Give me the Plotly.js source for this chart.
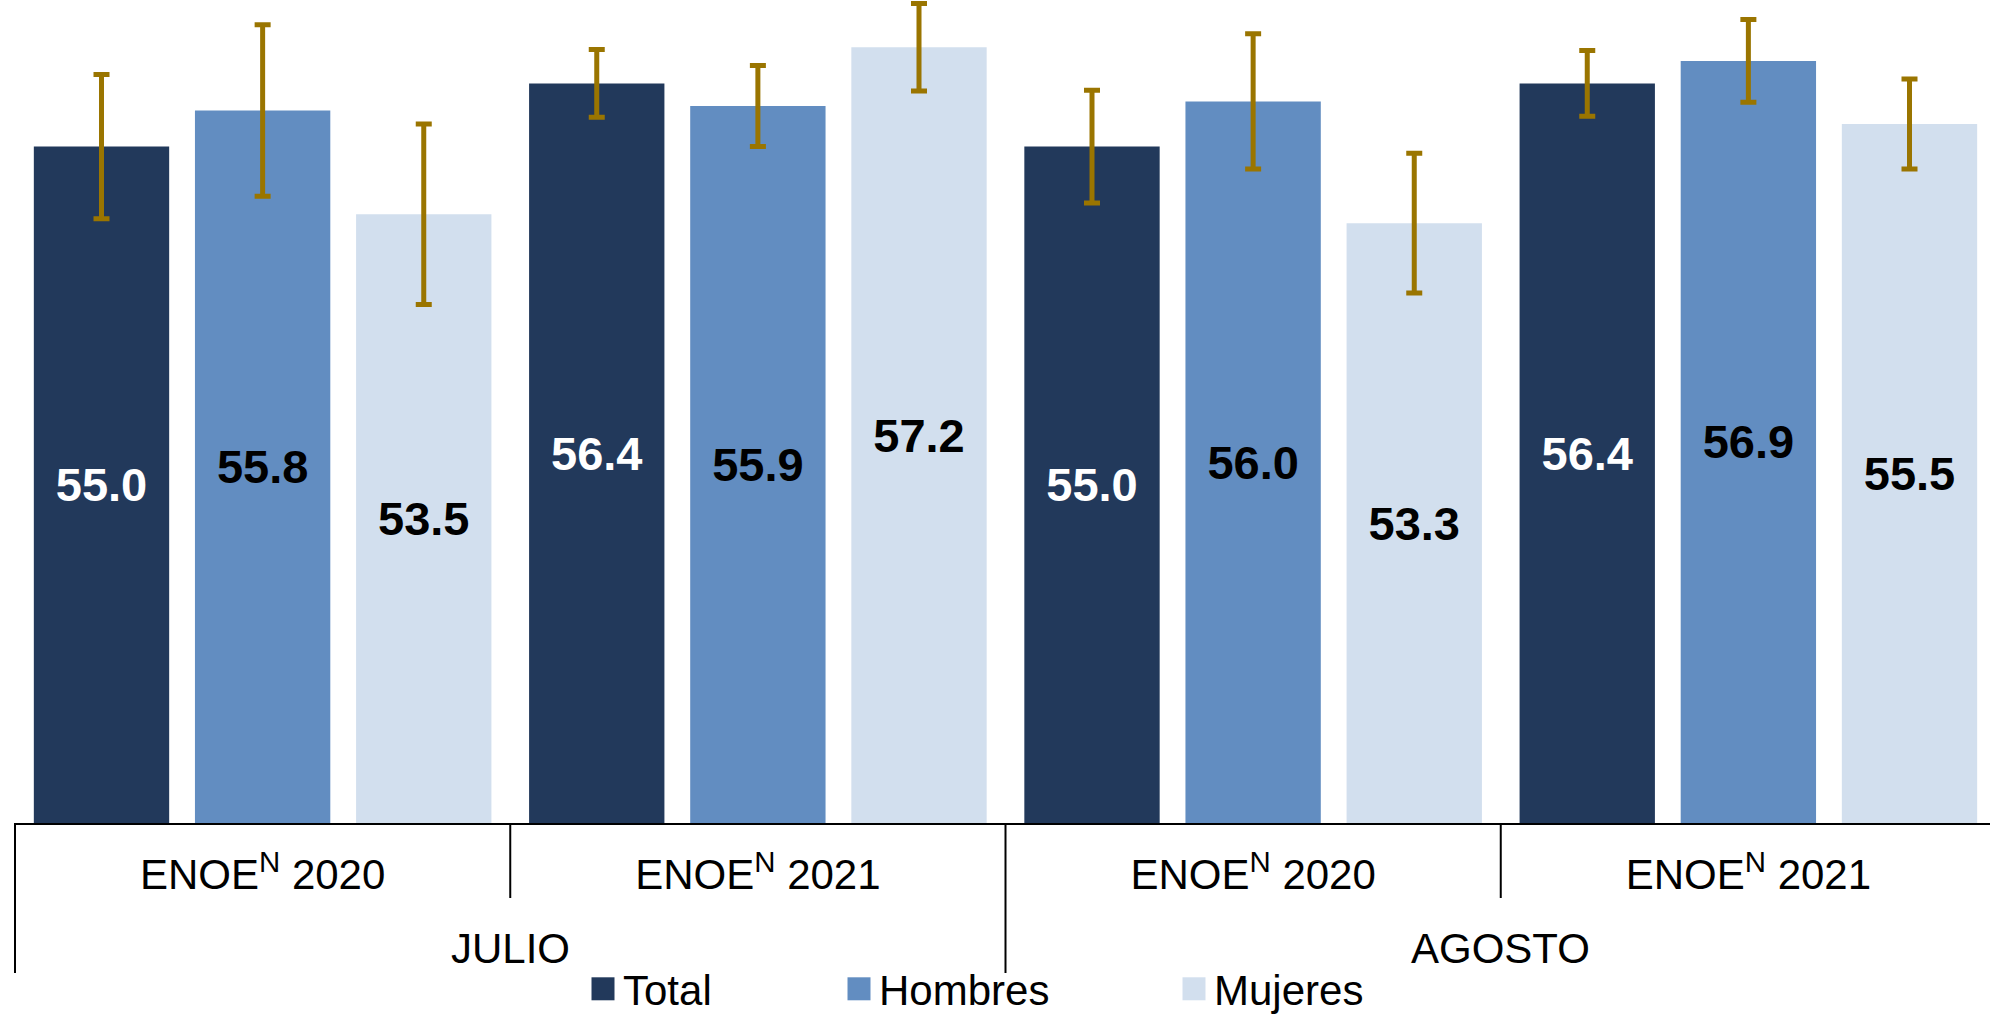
<!DOCTYPE html>
<html>
<head>
<meta charset="utf-8">
<script src="https://cdn.plot.ly/plotly-3.0.1.min.js"></script>
<style>
  html, body { margin: 0; padding: 0; overflow: hidden; background: #ffffff; }
  #chart { width: 1996px; height: 1014px; }
</style>
</head>
<body>
<div id="chart"></div>
<script>
// ---- data ----
const categoryIds = ['JULIO 2020', 'JULIO 2021', 'AGOSTO 2020', 'AGOSTO 2021'];
const surveys = ['ENOE<sup>N</sup> 2020', 'ENOE<sup>N</sup> 2021', 'ENOE<sup>N</sup> 2020', 'ENOE<sup>N</sup> 2021'];
const months = ['JULIO', 'AGOSTO'];
const seriesNames = ['Total', 'Hombres', 'Mujeres'];
const totalValues = [55.0, 56.4, 55.0, 56.4];
const hombresValues = [55.8, 55.9, 56.0, 56.9];
const mujeresValues = [53.5, 57.2, 53.3, 55.5];
const totalErr = [1.6, 0.75, 1.25, 0.73];
const hombresErr = [1.9, 0.9, 1.5, 0.92];
const mujeresErr = [2.0, 0.97, 1.55, 1.0];
const axisBase = 40;

// ---- styles ----
const FONT = 'Liberation Sans, Arial, Helvetica, sans-serif';
const colors = ['#22395b', '#628dc1', '#d2dfee'];
const labelColors = ['#ffffff', '#000000', '#000000'];
const errColor = '#9a7500';
const legendIds = ['legend', 'legend2', 'legend3'];

const values = [totalValues, hombresValues, mujeresValues];
const errs = [totalErr, hombresErr, mujeresErr];

const traces = seriesNames.map((name, i) => ({
  type: 'bar',
  name: name,
  legend: legendIds[i],
  x: categoryIds,
  base: axisBase,
  y: values[i].map(v => v - axisBase),
  customdata: values[i],
  marker: { color: colors[i], line: { width: 0 } },
  error_y: { type: 'data', array: errs[i], visible: true, color: errColor, thickness: 5, width: 8 },
  texttemplate: '%{customdata:.1f}',
  textposition: 'inside',
  insidetextanchor: 'middle',
  textangle: 0,
  constraintext: 'none',
  textfont: { family: FONT, size: 47, weight: 'bold', color: labelColors[i] },
  hoverinfo: 'skip'
}));

function legendAt(x) {
  return {
    orientation: 'h', xref: 'container', yref: 'container',
    x: x, xanchor: 'left', y: 1 - 989 / 1014, yanchor: 'middle',
    font: { family: FONT, size: 42, color: '#000000' },
    bgcolor: 'rgba(0,0,0,0)', borderwidth: 0
  };
}

const PLOT_H = 823;
const sepShapes = [];
[0, 0.5].forEach(px => sepShapes.push({
  type: 'line', xref: 'paper', yref: 'paper',
  x0: px, x1: px, y0: 0, y1: -150 / PLOT_H,
  line: { color: '#000000', width: 2 }
}));
[0.25, 0.75].forEach(px => sepShapes.push({
  type: 'line', xref: 'paper', yref: 'paper',
  x0: px, x1: px, y0: 0, y1: -75 / PLOT_H,
  line: { color: '#000000', width: 2 }
}));

const monthAnnotations = months.map((m, i) => ({
  text: m, xref: 'paper', yref: 'paper',
  x: 0.25 + 0.5 * i, y: -125 / PLOT_H,
  xanchor: 'center', yanchor: 'middle', showarrow: false,
  font: { family: FONT, size: 42, color: '#000000' }
}));

const layout = {
  width: 1996, height: 1014,
  margin: { l: 15, r: 0, t: 0, b: 1014 - PLOT_H, pad: 0 },
  paper_bgcolor: '#ffffff', plot_bgcolor: '#ffffff',
  font: { family: FONT, color: '#000000' },
  barmode: 'group',
  bargap: 0.024,
  bargroupgap: 0.16,
  showlegend: true,
  legend: legendAt(583 / 1996),
  legend2: legendAt(839 / 1996),
  legend3: legendAt(1174 / 1996),
  xaxis: {
    type: 'category',
    range: [-0.5, 3.5],
    tickmode: 'array', tickvals: categoryIds, ticktext: surveys,
    showline: true, linecolor: '#000000', linewidth: 2,
    ticks: 'outside', ticklen: 14, tickcolor: 'rgba(0,0,0,0)',
    tickfont: { family: FONT, size: 42, color: '#000000' },
    showgrid: false, zeroline: false, fixedrange: true
  },
  yaxis: {
    range: [40, 58.25],
    visible: false, showgrid: false, zeroline: false, fixedrange: true
  },
  shapes: sepShapes,
  annotations: monthAnnotations
};

Plotly.newPlot('chart', traces, layout, { displayModeBar: false, staticPlot: true }).then(() => {
  document.querySelectorAll('.legendpoints path').forEach(p => {
    p.setAttribute('d', 'M11.5,11.5H-11.5V-11.5H11.5Z');
  });
});
</script>
</body>
</html>
